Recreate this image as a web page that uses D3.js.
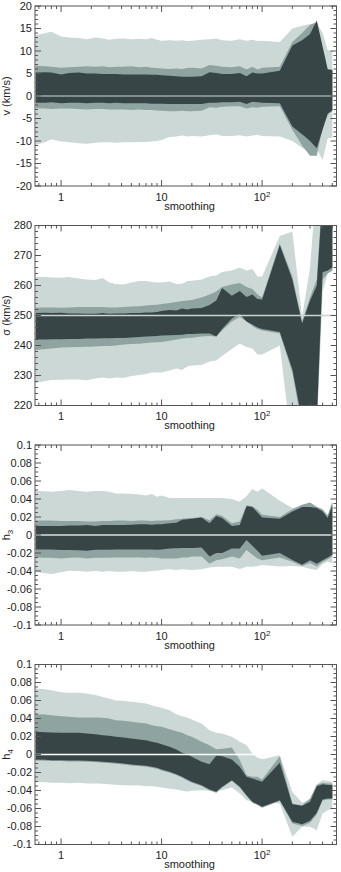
<!DOCTYPE html>
<html><head><meta charset="utf-8">
<script src="https://cdn.jsdelivr.net/npm/d3@7"></script>
<style>
html,body{margin:0;padding:0;background:#fff;}
svg{display:block;font-family:"Liberation Sans",Arial,Helvetica,sans-serif;}
</style></head>
<body>
<script>
// ---------- data ----------
const smoothing = [0.56,0.7,0.8,1.0,1.2,1.5,1.8,2.2,2.6,3.0,3.5,4.2,5,6,7,8,9,10,12,14,16,18,20,25,30,35,40,50,60,70,80,90,100,150,200,250,300,350,400,450,500];

// panel 1 : v (km/s)
const vLightHi = [13.5,14.0,14.3,13.2,13.0,12.9,12.6,13.0,12.8,12.5,12.7,12.8,12.6,12.7,12.6,12.9,12.5,12.3,12.4,12.3,12.4,12.2,12.3,12.5,12.6,12.8,12.4,12.3,12.6,12.3,12.5,12.2,12.3,12.0,15.0,15.6,16.0,16.3,14.0,10.2,10.0];
const vMidHi   = [6.7,6.6,6.5,6.3,6.4,6.5,6.6,6.5,6.6,6.4,6.5,6.5,6.6,6.4,6.5,6.3,6.2,6.1,6.0,6.1,6.0,6.2,6.3,6.1,6.9,6.7,6.5,6.4,6.6,5.9,6.5,5.9,6.3,6.5,12.0,14.0,15.8,16.4,8.0,6.0,5.9];
const vDarkHi  = [5.2,5.3,5.2,4.8,5.1,5.2,5.0,5.0,4.9,4.9,4.9,4.8,4.8,4.8,4.8,4.7,4.7,4.6,4.5,4.4,4.3,4.3,4.3,4.4,5.3,5.1,4.9,4.9,5.1,4.4,5.2,5.0,5.0,5.6,11.2,12.4,13.8,16.8,11.0,5.9,5.8];
const vDarkLo  = [-1.5,-1.5,-1.4,-1.6,-1.5,-1.5,-1.6,-1.5,-1.5,-1.6,-1.5,-1.6,-1.6,-1.6,-1.6,-1.7,-1.7,-1.7,-1.8,-1.8,-1.8,-1.8,-1.8,-1.8,-1.5,-1.5,-1.4,-1.4,-1.3,-1.8,-1.3,-1.4,-1.5,-1.6,-6.8,-8.5,-10.0,-11.6,-7.5,-3.9,-3.2];
const vMidLo   = [-2.7,-2.8,-2.9,-2.8,-2.8,-2.9,-3.0,-2.9,-2.9,-3.0,-3.0,-3.0,-3.1,-3.0,-3.1,-3.1,-3.2,-3.3,-3.4,-3.4,-3.3,-3.4,-3.4,-3.3,-2.5,-2.6,-2.4,-2.3,-2.3,-2.8,-2.5,-2.6,-2.4,-2.3,-7.5,-11.0,-13.3,-13.3,-7.0,-4.2,-3.3];
const vLightLo = [-10.9,-10.2,-9.6,-10.1,-10.3,-10.5,-10.6,-10.4,-10.3,-10.3,-10.4,-10.3,-10.3,-10.2,-10.2,-10.1,-10.0,-9.8,-9.1,-9.0,-8.8,-9.0,-8.9,-9.0,-8.7,-8.5,-8.9,-8.9,-8.7,-9.0,-8.8,-8.6,-8.9,-9.0,-10.0,-11.5,-12.5,-11.8,-14.2,-9.4,-9.2];

// panel 2 : sigma (km/s)
const sLightHi = [262.8,262.8,262.7,262.6,262.8,262.3,262.0,261.8,262.5,261.0,260.5,260.3,261.0,261.5,261.5,261.2,261.0,261.0,261.3,260.5,260.6,261.5,261.6,262.0,263.0,263.3,264.5,265.0,266.0,265.0,265.5,263.0,263.0,276.5,278.0,249.5,266.0,295,295,295,295];
const sMidHi   = [252.6,252.7,252.7,252.6,252.7,252.8,252.8,252.8,252.8,252.7,252.7,252.8,253.0,253.1,253.3,253.5,253.6,253.8,254.2,254.5,254.8,255.0,255.2,256.0,257.0,258.0,259.5,260.3,260.8,259.5,258.8,257.0,256.0,274.0,263.0,248.0,256.0,262.0,292,292,292];
const sDarkHi  = [250.8,250.9,250.8,250.9,250.7,250.7,250.6,250.6,250.8,250.6,250.7,250.7,250.8,250.8,251.0,251.0,251.2,251.5,251.8,251.7,252.3,252.0,252.3,252.5,253.5,255.0,259.2,256.6,258.2,256.2,257.0,255.5,255.3,273.5,262.0,247.3,255.0,260.0,290,290,290];
const sDarkLo  = [242.0,242.0,242.1,242.1,242.2,242.2,242.3,242.3,242.4,242.4,242.5,242.5,242.7,242.8,243.0,243.1,243.2,243.3,243.4,243.5,243.6,243.8,243.8,244.0,244.0,243.0,245.5,249.0,250.5,248.0,247.0,246.0,245.5,244.5,232.0,215,215,215,264.4,265.0,266.0];
const sMidLo   = [238.5,238.8,239.0,239.3,239.4,239.5,239.6,239.7,239.8,239.8,240.0,240.3,240.5,240.6,240.8,241.0,241.1,241.2,241.6,242.0,242.3,242.5,242.6,243.0,243.2,243.0,245.0,248.0,249.5,248.0,246.5,245.5,245.0,244.0,231.0,213,213,213,262,264,265];
const sLightLo = [227.5,228.2,228.5,228.6,228.7,228.7,228.4,229.0,229.3,229.0,229.3,229.2,229.8,230.2,230.5,231.0,231.0,231.0,231.7,232.3,231.8,233.0,233.3,233.5,234.7,235.0,236.5,238.8,240.7,239.5,239.0,237.0,237.0,240.0,205,210,221,210,258,264,265];

// panel 3 : h3
const h3LightHi = [0.049,0.0485,0.048,0.049,0.050,0.049,0.048,0.049,0.049,0.048,0.046,0.046,0.0455,0.045,0.044,0.0455,0.0425,0.044,0.041,0.041,0.041,0.041,0.041,0.041,0.041,0.041,0.041,0.040,0.037,0.043,0.051,0.048,0.052,0.038,0.030,0.032,0.035,0.031,0.026,0.020,0.037];
const h3MidHi   = [0.016,0.016,0.016,0.0155,0.0155,0.0155,0.015,0.015,0.0155,0.0155,0.016,0.016,0.0155,0.016,0.016,0.0155,0.016,0.016,0.0165,0.0175,0.018,0.0185,0.019,0.020,0.0165,0.023,0.0215,0.013,0.015,0.033,0.032,0.028,0.0225,0.020,0.0285,0.0335,0.036,0.0315,0.0285,0.022,0.037];
const h3DarkHi  = [0.010,0.010,0.010,0.010,0.0105,0.0105,0.011,0.010,0.011,0.011,0.011,0.011,0.0115,0.012,0.012,0.0115,0.012,0.012,0.013,0.0135,0.017,0.0175,0.018,0.0195,0.013,0.021,0.019,0.010,0.011,0.032,0.031,0.025,0.0195,0.018,0.026,0.031,0.031,0.030,0.026,0.019,0.033];
const h3DarkLo  = [-0.016,-0.016,-0.016,-0.0167,-0.0167,-0.017,-0.0174,-0.0163,-0.0163,-0.0163,-0.016,-0.016,-0.016,-0.016,-0.016,-0.016,-0.0163,-0.016,-0.015,-0.0148,-0.0144,-0.0144,-0.0144,-0.014,-0.024,-0.020,-0.020,-0.015,-0.015,-0.0055,-0.012,-0.0175,-0.023,-0.020,-0.0278,-0.033,-0.028,-0.032,-0.028,-0.025,-0.022];
const h3MidLo   = [-0.025,-0.0254,-0.0254,-0.026,-0.0254,-0.025,-0.026,-0.0254,-0.0254,-0.0254,-0.025,-0.025,-0.025,-0.025,-0.0254,-0.025,-0.0254,-0.026,-0.026,-0.026,-0.025,-0.025,-0.024,-0.024,-0.032,-0.028,-0.027,-0.024,-0.026,-0.0167,-0.022,-0.026,-0.028,-0.025,-0.0296,-0.0344,-0.031,-0.035,-0.030,-0.027,-0.024];
const h3LightLo = [-0.0407,-0.0426,-0.0433,-0.0415,-0.0396,-0.040,-0.0407,-0.040,-0.0407,-0.040,-0.0407,-0.0407,-0.040,-0.0407,-0.0407,-0.040,-0.0396,-0.039,-0.038,-0.039,-0.038,-0.0385,-0.039,-0.038,-0.036,-0.0352,-0.0352,-0.0352,-0.0378,-0.0352,-0.0352,-0.0344,-0.0333,-0.035,-0.0344,-0.0352,-0.0374,-0.0389,-0.0322,-0.0296,-0.0315];

// panel 4 : h4
const h4LightHi = [0.0733,0.0726,0.0715,0.0693,0.0685,0.0685,0.0678,0.066,0.064,0.0622,0.060,0.0596,0.0585,0.0574,0.0567,0.0548,0.053,0.0519,0.0493,0.0448,0.0426,0.0411,0.0389,0.0344,0.027,0.0241,0.0233,0.0196,0.0141,0.0104,0.0011,-0.0037,-0.0052,-0.0007,-0.0415,-0.0537,-0.050,-0.033,-0.0285,-0.0293,-0.0304];
const h4MidHi   = [0.0448,0.0444,0.0437,0.0426,0.0419,0.0411,0.0411,0.0411,0.0407,0.040,0.0381,0.0374,0.0363,0.0352,0.0344,0.0326,0.0315,0.0307,0.0281,0.0259,0.0241,0.0215,0.0196,0.0141,0.0104,0.0059,0.0063,0.0078,-0.0063,-0.023,-0.0248,-0.0248,-0.0278,-0.0019,-0.0544,-0.0567,-0.0489,-0.034,-0.0315,-0.0322,-0.0322];
const h4DarkHi  = [0.0252,0.0248,0.0244,0.0241,0.0241,0.0241,0.0233,0.0226,0.0215,0.0207,0.0196,0.0189,0.0178,0.0167,0.0159,0.0141,0.013,0.0115,0.0085,0.0056,0.0019,0.0004,-0.0026,-0.0081,-0.0107,-0.0015,-0.0019,-0.0056,-0.0137,-0.0248,-0.0267,-0.0285,-0.0304,-0.0093,-0.0552,-0.057,-0.0526,-0.0352,-0.033,-0.034,-0.034];
const h4DarkLo  = [-0.0056,-0.0059,-0.0063,-0.0063,-0.0067,-0.0067,-0.007,-0.0074,-0.0081,-0.0085,-0.0093,-0.010,-0.0111,-0.0119,-0.0126,-0.0137,-0.0148,-0.0167,-0.0193,-0.0219,-0.0248,-0.0278,-0.0304,-0.0341,-0.0389,-0.0415,-0.0359,-0.0285,-0.0359,-0.0452,-0.0526,-0.0552,-0.0581,-0.0507,-0.0748,-0.0774,-0.0737,-0.0648,-0.050,-0.0489,-0.0489];
const h4MidLo   = [-0.0066,-0.0069,-0.0073,-0.0073,-0.0077,-0.0077,-0.008,-0.0084,-0.0091,-0.0095,-0.0103,-0.011,-0.0121,-0.0129,-0.0136,-0.0147,-0.0158,-0.0177,-0.0203,-0.0229,-0.0258,-0.0288,-0.0314,-0.0351,-0.0399,-0.0425,-0.0369,-0.0295,-0.0369,-0.0462,-0.0536,-0.0562,-0.0591,-0.0517,-0.0768,-0.0794,-0.0757,-0.0668,-0.051,-0.0499,-0.0499];
const h4LightLo = [-0.0304,-0.0307,-0.0315,-0.0315,-0.0319,-0.0315,-0.0322,-0.0322,-0.0326,-0.033,-0.0337,-0.0341,-0.0344,-0.0344,-0.0352,-0.0352,-0.0359,-0.0367,-0.0381,-0.0389,-0.0404,-0.0411,-0.0404,-0.0396,-0.0404,-0.0404,-0.0396,-0.0367,-0.0433,-0.0507,-0.0526,-0.0526,-0.0526,-0.0544,-0.0915,-0.0804,-0.0804,-0.0841,-0.0656,-0.0619,-0.060];

const xTickValues = [1, 10, 100];
const panelTitles = ["v (km/s)", "σ (km/s)", "h3", "h4"];
const panelDomains = [[-20, 20], [220, 280], [-0.1, 0.1], [-0.1, 0.1]];
const panelCenters = [0, 250, 0, 0];
const majorSteps = [5, 10, 0.02, 0.02];
const minorSteps = [1, 2, 0.005, 0.005];

// ---------- layout ----------
const W = 341, H = 872;
const left = 35, plotW = 301.5, plotH = 180;
const tops = [6, 225.5, 445, 664.5];
const colLight = "#ccd8d6", colMid = "#8fa3a0", colDark = "#384547";
const zeroCols = ["#9aa8a8", "#c9d3d2", "#d8dfde", "#ffffff"];

const svg = d3.select("body").append("svg").attr("width", W).attr("height", H);

const panels = [
  {hi:[vLightHi,vMidHi,vDarkHi], lo:[vLightLo,vMidLo,vDarkLo]},
  {hi:[sLightHi,sMidHi,sDarkHi], lo:[sLightLo,sMidLo,sDarkLo]},
  {hi:[h3LightHi,h3MidHi,h3DarkHi], lo:[h3LightLo,h3MidLo,h3DarkLo]},
  {hi:[h4LightHi,h4MidHi,h4DarkHi], lo:[h4LightLo,h4MidLo,h4DarkLo]}
];
const fills = [colLight, colMid, colDark];

function fmt(v, step) {
  if (Math.abs(v) < 1e-9) return "0";
  if (step < 1) {
    let s = d3.format(".2f")(v).replace(/0+$/, "").replace(/\.$/, "");
    return s.replace("−", "-");
  }
  return String(Math.round(v)).replace("−", "-");
}

const x = d3.scaleLog().domain([0.55, 550]).range([0, plotW]);

panels.forEach((p, k) => {
  const g = svg.append("g").attr("transform", `translate(${left},${tops[k]})`);
  const dom = panelDomains[k];
  const y = d3.scaleLinear().domain(dom).range([plotH, 0]);

  const clipId = "clip" + k;
  g.append("clipPath").attr("id", clipId).append("rect")
    .attr("width", plotW).attr("height", plotH);
  const plot = g.append("g").attr("clip-path", `url(#${clipId})`);

  for (let b = 0; b < 3; b++) {
    const hi = p.hi[b], lo = p.lo[b];
    const area = d3.area()
      .x((d, i) => x(smoothing[i]))
      .y0((d, i) => y(lo[i]))
      .y1((d, i) => y(hi[i]));
    plot.append("path").datum(smoothing).attr("d", area).attr("fill", fills[b]);
  }
  plot.append("line").attr("x1", 0).attr("x2", plotW)
    .attr("y1", y(panelCenters[k])).attr("y2", y(panelCenters[k]))
    .attr("stroke", zeroCols[k]).attr("stroke-width", 1.5);

  // frame
  g.append("rect").attr("width", plotW).attr("height", plotH)
    .attr("fill", "none").attr("stroke", "#555").attr("stroke-width", 1);

  // y ticks
  const nMinor = Math.round((dom[1] - dom[0]) / minorSteps[k]);
  const tickG = g.append("g").attr("stroke", "#555").attr("stroke-width", 1);
  for (let i = 0; i <= nMinor; i++) {
    const v = dom[0] + i * minorSteps[k];
    const isMaj = Math.abs(v / majorSteps[k] - Math.round(v / majorSteps[k])) < 1e-6;
    const len = isMaj ? 6 : 3;
    const yy = y(v);
    tickG.append("line").attr("x1", 0).attr("x2", len).attr("y1", yy).attr("y2", yy);
    tickG.append("line").attr("x1", plotW).attr("x2", plotW - len).attr("y1", yy).attr("y2", yy);
    if (isMaj) {
      g.append("text").attr("x", -3).attr("y", yy).attr("dy", "0.36em")
        .attr("text-anchor", "end").attr("font-size", 11).attr("fill", "#222")
        .text(fmt(v, majorSteps[k]));
    }
  }
  // x ticks
  const xMinor = [];
  [0.1, 1, 10, 100].forEach(dec => {
    for (let m = 1; m <= 9; m++) {
      const v = dec * m;
      if (v >= 0.55 && v <= 550) xMinor.push(v);
    }
  });
  xMinor.forEach(v => {
    const isMaj = xTickValues.includes(v);
    const len = isMaj ? 6 : 3;
    const xx = x(v);
    tickG.append("line").attr("x1", xx).attr("x2", xx).attr("y1", plotH).attr("y2", plotH - len);
    tickG.append("line").attr("x1", xx).attr("x2", xx).attr("y1", 0).attr("y2", len);
  });
  xTickValues.forEach((v, i) => {
    const t = g.append("text").attr("x", x(v)).attr("y", plotH + 14.5)
      .attr("text-anchor", "middle").attr("font-size", 11).attr("fill", "#222");
    if (v >= 100) {
      t.append("tspan").text("10");
      t.append("tspan").attr("dy", -4).attr("font-size", 8).text(String(Math.round(Math.log10(v))));
    } else t.text(String(v));
  });
  g.append("text").attr("x", x(10) + 28).attr("y", plotH + 23.5)
    .attr("text-anchor", "middle").attr("font-size", 11).attr("fill", "#222").text("smoothing");

  // y title
  const title = panelTitles[k];
  const tt = g.append("text")
    .attr("transform", `translate(${-25},${plotH / 2}) rotate(-90)`)
    .attr("text-anchor", "middle").attr("font-size", 11).attr("fill", "#222");
  if (title === "h3" || title === "h4") {
    tt.append("tspan").text("h");
    tt.append("tspan").attr("dy", 3).attr("font-size", 8).text(title.slice(1));
  } else tt.text(title);
});
</script>
</body></html>
